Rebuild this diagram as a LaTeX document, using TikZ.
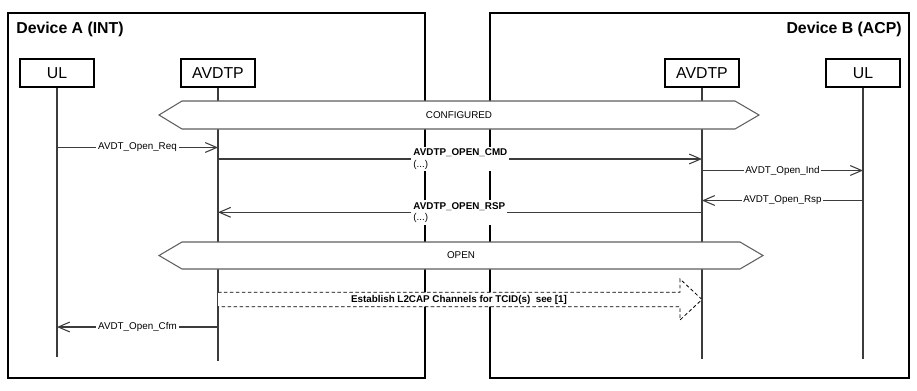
\documentclass[tikz,border=0pt]{standalone}
\usepackage{fontspec}
\setmainfont{Liberation Sans}
\usepackage{xcolor}
\usetikzlibrary{arrows.meta, positioning, calc}
\definecolor{lifegray}{HTML}{3C3C3C}
\definecolor{bandgray}{HTML}{5F5F5F}
\tikzset{
  dev/.style={draw=black, line width=1.1pt},
  devlab/.style={font=\fontsize{9}{11}\selectfont\bfseries, inner sep=0pt},
  part/.style={rectangle, draw=black, line width=0.6pt, fill=white, minimum width=1.48cm, minimum height=0.56cm, inner sep=0pt, font=\fontsize{9}{11}\selectfont},
  life/.style={draw=lifegray, line width=0.6pt},
  msg/.style={draw=lifegray, line width=0.6pt, -{Straight Barb[length=6.5pt, width=5.6pt]}},
  mlab/.style={fill=white, inner sep=1pt, font=\fontsize{5.6}{6.5}\selectfont},
  plab/.style={fill=white, inner sep=1.2pt, align=left, anchor=west, font=\fontsize{5.6}{6.5}\selectfont},
  band/.style={draw=bandgray, fill=white, line width=0.6pt},
  blab/.style={font=\fontsize{5.6}{6.5}\selectfont, inner sep=0pt},
  bulk/.style={draw=black, line width=0.45pt, dash pattern=on 2pt off 1.4pt},
}

\begin{document}
\begin{tikzpicture}[x=0.02cm, y=-0.02cm]
  \useasboundingbox (0,0) rectangle (917,390);
  % device frames
  \draw[dev] (8,13) rectangle (425,378);
  \draw[dev] (490,13) rectangle (909,378);
  \node[devlab, anchor=west] (devA) at (16,29) {Device A (INT)};
  \node[devlab, anchor=east] (devB) at (902,29) {Device B (ACP)};
  % participants
  \node[part] (ulA) at (57,73)  {UL};
  \node[part] (avA) at (218,73) {AVDTP};
  \node[part] (avB) at (702,73) {AVDTP};
  \node[part] (ulB) at (863,73) {UL};
  \coordinate (ulAend) at (57,357);
  \coordinate (avAend) at (218,361);
  \coordinate (avBend) at (702,359);
  \coordinate (ulBend) at (863,359);
  \draw[life] (ulA) -- (ulAend);
  \draw[life] (avA) -- (avAend);
  \draw[life] (avB) -- (avBend);
  \draw[life] (ulB) -- (ulBend);
  % message levels
  \coordinate (tReq) at (0,147.5);
  \coordinate (tCmd) at (0,159);
  \coordinate (tInd) at (0,170.5);
  \coordinate (tRsp) at (0,200.5);
  \coordinate (tPrs) at (0,212.3);
  \coordinate (tCfm) at (0,327);
  % messages
  \draw[msg] (ulA |- tReq) -- node[mlab]{AVDT\_Open\_Req} (avA |- tReq);
  \draw[msg] (avA |- tCmd) -- (avB |- tCmd);
  \draw[msg] (avB |- tInd) -- node[mlab]{AVDT\_Open\_Ind} (ulB |- tInd);
  \draw[msg] (ulB |- tRsp) -- node[mlab]{AVDT\_Open\_Rsp} (avB |- tRsp);
  \draw[msg] (avB |- tPrs) -- (avA |- tPrs);
  \draw[msg] (avA |- tCfm) -- node[mlab]{AVDT\_Open\_Cfm} (ulA |- tCfm);
  \node[plab] (cmd) at (411,159) {\textbf{AVDTP\_OPEN\_CMD}\\(...)};
  \node[plab] (prsp) at (411,212.3) {\textbf{AVDTP\_OPEN\_RSP}\\(...)};
  % states
  \draw[band] (159,115) -- (182,101) -- (735,101) -- (759,115) -- (735,129) -- (182,129) -- cycle;
  \node[blab] (cfg) at (459,115) {CONFIGURED};
  \draw[band] (159,255.5) -- (182,242) -- (740,242) -- (763,255.5) -- (740,269) -- (182,269) -- cycle;
  \node[blab] (opn) at (461,255.5) {OPEN};
  % L2CAP channels
  \fill[white] (avA |- 0,292.3) -- (680,292.3) -- (680,279) -- (702,299.5) -- (680,320) -- (680,306.7) -- (avA |- 0,306.7) -- cycle;
  \draw[bulk] (avA |- 0,292.3) -- (680,292.3) -- (680,279) -- (702,299.5) -- (680,320) -- (680,306.7) -- (avA |- 0,306.7);
  \node[blab, font=\fontsize{5.6}{6.5}\selectfont\bfseries] (l2cap) at (459,299.5) {Establish L2CAP Channels for TCID(s)\ \ see [1]};
\end{tikzpicture}
\end{document}
